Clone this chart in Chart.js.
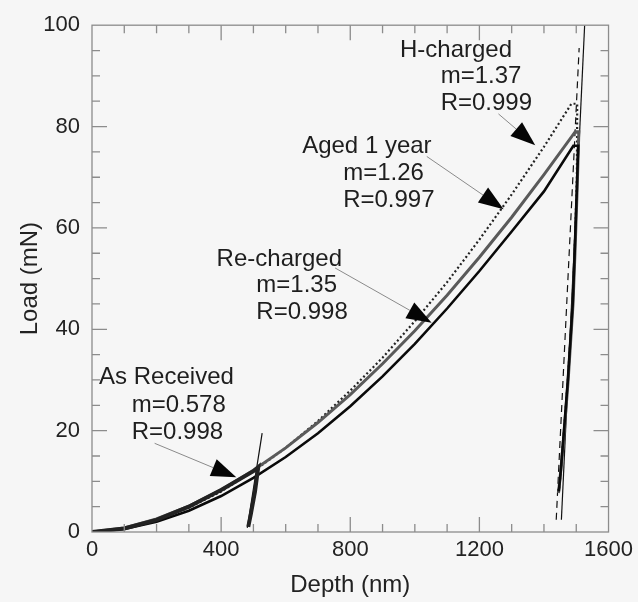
<!DOCTYPE html>
<html lang="en">
<head>
    <meta charset="UTF-8">
    <title>Load vs Depth</title>
    <script src="https://cdn.jsdelivr.net/npm/chart.js"></script>
    <style>
        body {
            margin: 0;
            background-color: #f6f6f6;
        }
        canvas {
            display: block;
        }
    </style>
</head>
<body>
    <canvas id="loadChart" width="638" height="602"></canvas>

    <script>
        // Loading / hold / unloading branches
        const hChargedDepth = [0, 100, 200, 300, 400, 500, 600, 700, 800, 900, 1000, 1100, 1200, 1300, 1400, 1485, 1503, 1502, 1495, 1489, 1474, 1462, 1452, 1446];
        const hChargedLoad = [0, 0.7, 2.3, 4.8, 8.0, 12.0, 16.6, 21.9, 27.9, 34.4, 41.6, 49.3, 57.7, 66.6, 76.0, 84.5, 84.5, 70, 55, 45, 30, 20, 12, 7.8];

        const agedDepth = [0, 100, 200, 300, 400, 500, 600, 700, 800, 900, 1000, 1100, 1200, 1300, 1400, 1497, 1508, 1503, 1496, 1490, 1475, 1463, 1452, 1445];
        const agedLoad = [0, 0.8, 2.6, 5.1, 8.3, 12.2, 16.6, 21.6, 27.1, 33.2, 39.7, 46.7, 54.2, 62.1, 70.5, 79.0, 79.0, 68, 55, 45, 30, 20, 12, 7.7];

        const rechargedDepth = [0, 100, 200, 300, 400, 500, 600, 700, 800, 900, 1000, 1100, 1200, 1300, 1400, 1491, 1506, 1502, 1495, 1489, 1474, 1462, 1452, 1446];
        const rechargedLoad = [0, 0.6, 2.0, 4.2, 7.1, 10.7, 14.8, 19.5, 24.8, 30.7, 37.1, 44.1, 51.5, 59.3, 67.2, 76.2, 76.2, 68, 55, 45, 30, 20, 12, 8.0];

        const asReceivedDepth = [0, 100, 200, 300, 400, 500, 515, 505, 492, 484];
        const asReceivedLoad = [0, 0.7, 2.4, 5.0, 8.3, 12.0, 12.8, 8.0, 3.5, 1.0];

        // Unloading fit lines
        const fitAsReceivedDepth = [481, 527];
        const fitAsReceivedLoad = [0.8, 19.5];
        const fitSolidDepth = [1454, 1526];
        const fitSolidLoad = [2.4, 100];
        const fitDashedDepth = [1438, 1509];
        const fitDashedLoad = [2.4, 95.5];

        // Axis ticks
        const depthTicks = [0, 400, 800, 1200, 1600];
        const loadTicks = [0, 20, 40, 60, 80, 100];

        // Labels on the curves
        const labelNames = ['H-charged', 'Aged 1 year', 'Re-charged', 'As Received'];
        const labelM = ['m=1.37', 'm=1.26', 'm=1.35', 'm=0.578'];
        const labelR = ['R=0.999', 'R=0.997', 'R=0.998', 'R=0.998'];

        const pts = (xs, ys) => xs.map((x, i) => ({ x: x, y: ys[i] }));

        const fontFamily = '"Liberation Sans", Arial, sans-serif';
        Chart.defaults.font.family = fontFamily;

        const labelLayout = [
            // name anchor, m/R anchor (left edge, centres), arrow start, arrow tip
            { name: [954, 95.1], sub: [1080, 90.0, 84.5], from: [1259, 82.5], tip: [1373, 76.3] },
            { name: [651, 76.0], sub: [778, 70.7, 65.4], from: [1037, 74.1], tip: [1275, 63.7] },
            { name: [386, 53.8], sub: [509, 48.7, 43.4], from: [753, 52.1], tip: [1052, 41.3] },
            { name: [22, 30.5], sub: [123, 25.0, 19.6], from: [194, 17.5], tip: [447, 10.8] }
        ];

        const framePlugin = {
            id: 'frame',
            afterDatasetsDraw(chart) {
                const { ctx, chartArea: a, scales: { x, y } } = chart;
                ctx.save();
                ctx.strokeStyle = '#8c8c8c';
                ctx.lineWidth = 1.3;
                ctx.strokeRect(a.left, a.top, a.right - a.left, a.bottom - a.top);
                ctx.beginPath();
                for (let v = 100; v < 1600; v += 100) {
                    const px = x.getPixelForValue(v);
                    const len = v % 400 === 0 ? 15 : 8;
                    ctx.moveTo(px, a.bottom); ctx.lineTo(px, a.bottom - len);
                    ctx.moveTo(px, a.top); ctx.lineTo(px, a.top + len);
                }
                for (let v = 5; v < 100; v += 5) {
                    const py = y.getPixelForValue(v);
                    const len = v % 20 === 0 ? 15 : 8;
                    ctx.moveTo(a.left, py); ctx.lineTo(a.left + len, py);
                    ctx.moveTo(a.right, py); ctx.lineTo(a.right - len, py);
                }
                ctx.stroke();

                // annotations with arrows
                ctx.font = '24px ' + fontFamily;
                ctx.textBaseline = 'middle';
                ctx.textAlign = 'left';
                labelLayout.forEach((l, i) => {
                    ctx.fillStyle = '#1e1e1e';
                    ctx.fillText(labelNames[i], x.getPixelForValue(l.name[0]), y.getPixelForValue(l.name[1]));
                    ctx.fillText(labelM[i], x.getPixelForValue(l.sub[0]), y.getPixelForValue(l.sub[1]));
                    ctx.fillText(labelR[i], x.getPixelForValue(l.sub[0]), y.getPixelForValue(l.sub[2]));

                    const x0 = x.getPixelForValue(l.from[0]), y0 = y.getPixelForValue(l.from[1]);
                    const x1 = x.getPixelForValue(l.tip[0]), y1 = y.getPixelForValue(l.tip[1]);
                    const ang = Math.atan2(y1 - y0, x1 - x0);
                    const head = 25, half = 9;
                    const bx = x1 - head * Math.cos(ang), by = y1 - head * Math.sin(ang);
                    ctx.strokeStyle = '#8a8a8a';
                    ctx.lineWidth = 1;
                    ctx.beginPath();
                    ctx.moveTo(x0, y0); ctx.lineTo(bx, by);
                    ctx.stroke();
                    ctx.fillStyle = '#050505';
                    ctx.beginPath();
                    ctx.moveTo(x1, y1);
                    ctx.lineTo(bx + half * Math.sin(ang), by - half * Math.cos(ang));
                    ctx.lineTo(bx - half * Math.sin(ang), by + half * Math.cos(ang));
                    ctx.closePath();
                    ctx.fill();
                });
                ctx.restore();
            }
        };

        const line = (data, color, width, dash) => ({
            data: data,
            showLine: true,
            borderColor: color,
            borderWidth: width,
            borderDash: dash || [],
            pointRadius: 0,
            fill: false,
            tension: 0
        });

        new Chart(document.getElementById('loadChart'), {
            type: 'scatter',
            data: {
                datasets: [
                    line(pts(asReceivedDepth, asReceivedLoad), '#222222', 4),
                    line(pts(rechargedDepth, rechargedLoad), '#0a0a0a', 2.6),
                    line(pts(agedDepth, agedLoad), '#5a5a5a', 3),
                    line(pts(hChargedDepth, hChargedLoad), '#222222', 2.2, [2, 2.5]),
                    line(pts(fitAsReceivedDepth, fitAsReceivedLoad), '#111111', 1.2),
                    line(pts(fitSolidDepth, fitSolidLoad), '#111111', 1.2),
                    line(pts(fitDashedDepth, fitDashedLoad), '#111111', 1.2, [7, 5])
                ]
            },
            options: {
                responsive: false,
                animation: false,
                layout: { padding: { left: 16, right: 28, top: 21, bottom: 2 } },
                plugins: {
                    legend: { display: false },
                    tooltip: { enabled: false }
                },
                scales: {
                    x: {
                        type: 'linear',
                        min: 0,
                        max: 1600,
                        afterBuildTicks: axis => { axis.ticks = depthTicks.map(v => ({ value: v })); },
                        afterFit: axis => { axis.height = 68; },
                        ticks: { font: { size: 22 }, color: '#222', padding: 5, maxRotation: 0, callback: v => String(v) },
                        grid: { display: false, drawTicks: false },
                        border: { display: false },
                        title: { display: true, text: 'Depth (nm)', font: { size: 24 }, color: '#222', padding: 0 }
                    },
                    y: {
                        type: 'linear',
                        min: 0,
                        max: 100,
                        afterBuildTicks: axis => { axis.ticks = loadTicks.map(v => ({ value: v })); },
                        afterFit: axis => { axis.width = 76; },
                        ticks: { font: { size: 22 }, color: '#222', padding: 12, callback: v => String(v) },
                        grid: { display: false, drawTicks: false },
                        border: { display: false },
                        title: { display: true, text: 'Load (mN)', font: { size: 24 }, color: '#222', padding: 0 }
                    }
                }
            },
            plugins: [framePlugin]
        });
    </script>
</body>
</html>
